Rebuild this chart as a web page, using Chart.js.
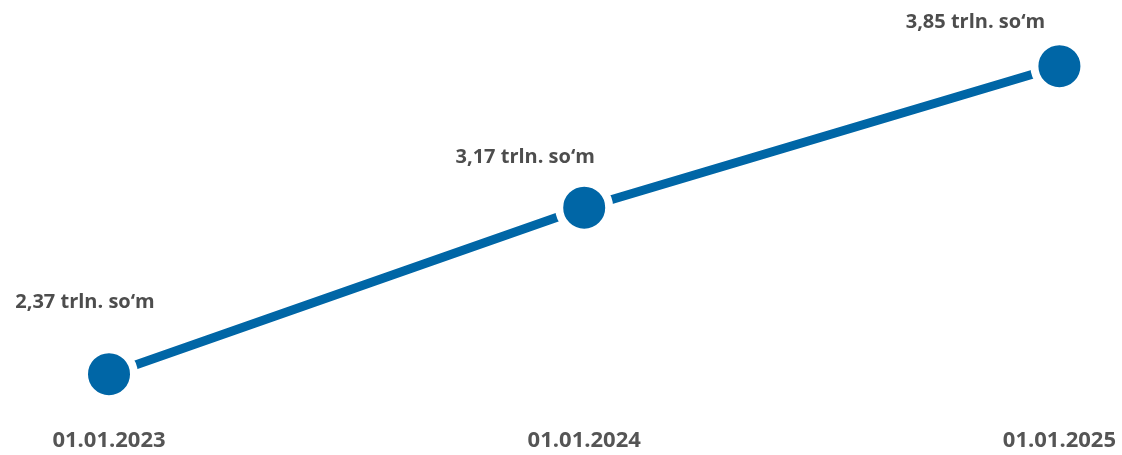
<!DOCTYPE html>
<html>
<head>
<meta charset="utf-8">
<script src="https://cdn.jsdelivr.net/npm/chart.js@4/dist/chart.umd.min.js"></script>
<style>
  html, body { margin: 0; padding: 0; background: #fff; }
  #wrap { width: 1122px; height: 455px; position: relative; }
</style>
</head>
<body>
<div id="wrap"><canvas id="debtChart"></canvas></div>
<script>
const dates = ['01.01.2023', '01.01.2024', '01.01.2025'];
const amounts = [2.37, 3.17, 3.85];
const unit = 'trln. so\u2018m';

// where each value label sits relative to its point
const labelShift = [[-24, -72], [-59, -50], [-84, -44]];

const valueLabels = {
  id: 'valueLabels',
  afterDatasetsDraw(chart) {
    const ctx = chart.ctx;
    const meta = chart.getDatasetMeta(0);
    ctx.save();
    ctx.font = 'bold 20px "Open Sans", sans-serif';
    ctx.fillStyle = '#4d4d4d';
    ctx.textAlign = 'center';
    ctx.textBaseline = 'middle';
    meta.data.forEach((pt, i) => {
      const txt = amounts[i].toFixed(2).replace('.', ',') + ' ' + unit;
      ctx.fillText(txt, pt.x + labelShift[i][0], pt.y + labelShift[i][1]);
    });
    ctx.restore();
  }
};

new Chart(document.getElementById('debtChart'), {
  type: 'line',
  data: {
    labels: dates,
    datasets: [{
      data: amounts,
      borderColor: '#0066a6',
      borderWidth: 9,
      backgroundColor: '#0066a6',
      pointBackgroundColor: '#0066a6',
      pointBorderColor: '#ffffff',
      pointBorderWidth: 8,
      pointRadius: 25,
      pointHoverRadius: 25,
      tension: 0
    }]
  },
  options: {
    responsive: true,
    maintainAspectRatio: false,
    animation: false,
    layout: { padding: { left: 109, right: 59, top: 35, bottom: -9 } },
    plugins: {
      legend: { display: false },
      tooltip: { enabled: false }
    },
    scales: {
      x: {
        offset: false,
        grid: { display: false, drawTicks: false },
        border: { display: false },
        ticks: {
          padding: 6,
          color: '#555555',
          font: { family: '"Open Sans", sans-serif', size: 22, weight: 'bold' },
          maxRotation: 0,
          autoSkip: false
        }
      },
      y: {
        display: false,
        min: 2.14,
        max: 4.0
      }
    }
  },
  plugins: [valueLabels]
});
</script>
</body>
</html>
